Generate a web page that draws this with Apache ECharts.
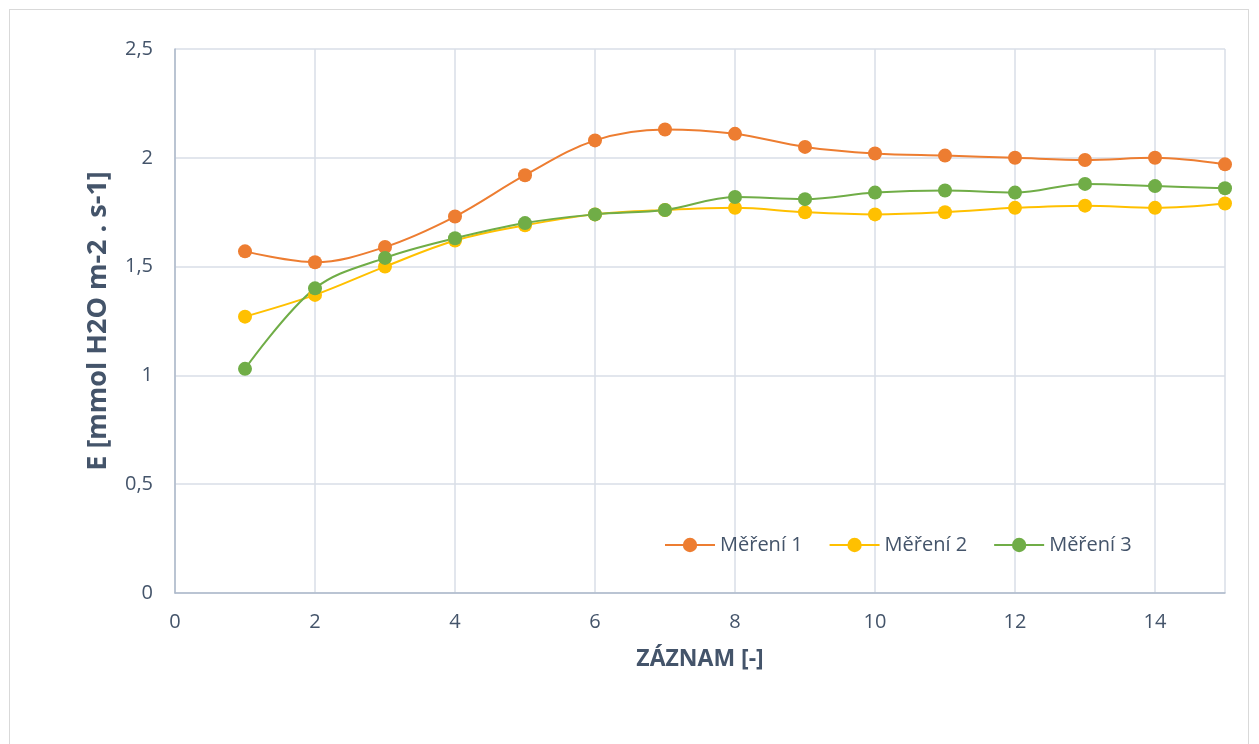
<!DOCTYPE html>
<html><head><meta charset="utf-8">
<script src="https://cdn.jsdelivr.net/npm/echarts@6/dist/echarts.min.js"></script>
<style>
html,body{margin:0;padding:0;background:#fff;}
#frame{position:absolute;left:9px;top:9px;width:1240px;height:740px;border:1px solid #d9d9d9;box-sizing:border-box;}
#c{position:absolute;left:0;top:0;width:1259px;height:744px;}
</style></head>
<body><div id="frame"></div><div id="c"></div>
<script>
const xValues = [1,2,3,4,5,6,7,8,9,10,11,12,13,14,15];
const mereni1 = [1.57,1.52,1.59,1.73,1.92,2.08,2.13,2.11,2.05,2.02,2.01,2.00,1.99,2.00,1.97];
const mereni2 = [1.27,1.37,1.50,1.62,1.69,1.74,1.76,1.77,1.75,1.74,1.75,1.77,1.78,1.77,1.79];
const mereni3 = [1.03,1.40,1.54,1.63,1.70,1.74,1.76,1.82,1.81,1.84,1.85,1.84,1.88,1.87,1.86];
const seriesNames = ['Měření 1','Měření 2','Měření 3'];
const colors = ['#ED7D31','#FFC000','#70AD47'];

const chart = echarts.init(document.getElementById('c'));
const textColor = '#44546A';
const ff = '"Open Sans", "Noto Sans", sans-serif';
function mk(name, vals, color){
  return {
    name, type:'line', smooth:0.35,
    data: xValues.map((x,i)=>[x, vals[i]]),
    symbol:'circle', symbolSize:14,
    lineStyle:{color, width:2},
    itemStyle:{color},
    z: 2
  };
}
chart.setOption({
  animation:false,
  textStyle:{fontFamily:ff},
  grid:{left:175, right:34, top:49, bottom:151},
  legend:{
    left:659, top:530, itemWidth:50, itemHeight:18, itemGap:26,
    textStyle:{color:textColor, fontSize:20, fontFamily:ff},
    data: seriesNames
  },
  xAxis:{
    type:'value', min:0, max:15, interval:2,
    name:'ZÁZNAM [-]', nameLocation:'middle', nameGap:55,
    nameTextStyle:{color:textColor, fontSize:23, fontWeight:'bold'},
    axisLine:{show:true, lineStyle:{color:'#ADB9CA', width:1.5}},
    axisTick:{show:false},
    axisLabel:{color:textColor, fontSize:20, margin:19, showMaxLabel:false},
    splitLine:{show:true, lineStyle:{color:'#D9DEE7', width:1.5}}
  },
  yAxis:{
    type:'value', min:0, max:2.5, interval:0.5,
    name:'E [mmol H2O m-2 . s-1]', nameLocation:'middle', nameGap:63,
    nameTextStyle:{color:textColor, fontSize:27, fontWeight:'bold'},
    axisLine:{show:true, lineStyle:{color:'#ADB9CA', width:1.5}},
    axisTick:{show:false},
    axisLabel:{color:textColor, fontSize:20, margin:22,
      formatter:(v)=>String(v).replace('.',',')},
    splitLine:{show:true, lineStyle:{color:'#D9DEE7', width:1.5}}
  },
  series:[mk(seriesNames[0],mereni1,colors[0]), mk(seriesNames[1],mereni2,colors[1]), mk(seriesNames[2],mereni3,colors[2])]
});
</script></body></html>
